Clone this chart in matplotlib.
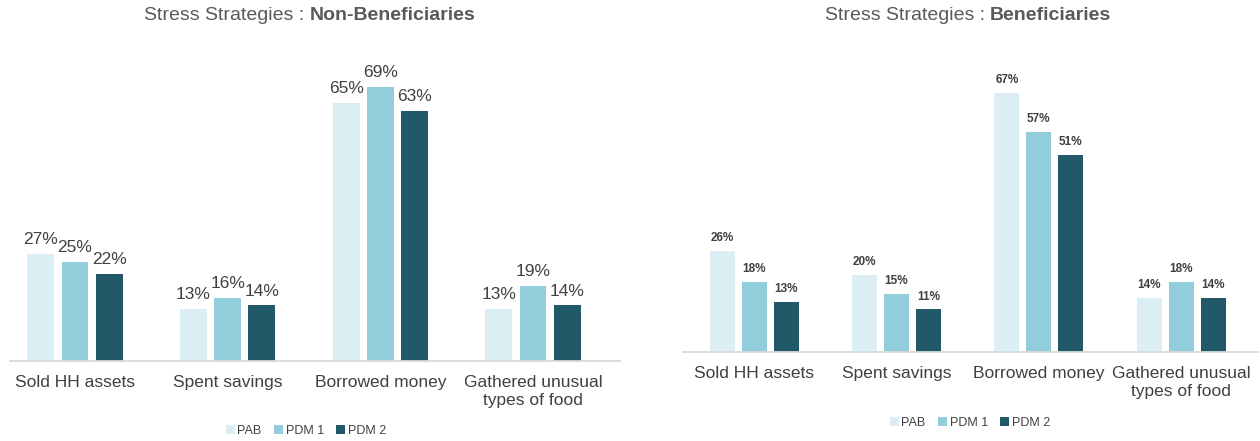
import matplotlib.pyplot as plt
from matplotlib.patches import Patch
import numpy as np

plt.rcParams['font.family'] = ['Liberation Sans', 'DejaVu Sans']

# data
categories = ["Sold HH assets", "Spent savings", "Borrowed money", "Gathered unusual\ntypes of food"]
series_names = ["PAB", "PDM 1", "PDM 2"]
non_benef = {
    "PAB": [27, 13, 65, 13],
    "PDM 1": [25, 16, 69, 19],
    "PDM 2": [22, 14, 63, 14],
}
benef = {
    "PAB": [26, 20, 67, 14],
    "PDM 1": [18, 15, 57, 18],
    "PDM 2": [13, 11, 51, 14],
}
colors = ["#DAEEF3", "#92CDDC", "#215968"]
text_col = "#595959"
W, H = 1260, 441

fig = plt.figure(figsize=(12.6, 4.41), dpi=100)

ax1 = fig.add_axes([10 / W, 80 / H, 610 / W, 300 / H])
ax2 = fig.add_axes([683 / W, 89 / H, 575 / W, 292 / H])


def draw_panel(ax, data, xlim, ylim, lab_size, lab_weight, lab_off):
    x = np.arange(len(categories))
    width = 0.176
    pitch = 0.224
    for i, name in enumerate(series_names):
        vals = data[name]
        bars = ax.bar(x + (i - 1) * pitch, vals, width, color=colors[i], zorder=2)
        for b, v in zip(bars, vals):
            ax.annotate(f"{v}%", (b.get_x() + b.get_width() / 2, v),
                        xytext=(0, lab_off), textcoords="offset points",
                        ha="center", va="bottom", fontsize=lab_size,
                        fontweight=lab_weight, color="#404040")
    ax.set_xlim(*xlim)
    ax.set_ylim(0, ylim)
    ax.set_yticks([])
    ax.set_xticks(x)
    ax.set_xticklabels(categories, fontsize=12.5, color="#404040",
                       linespacing=1.3)
    ax.tick_params(axis="x", length=0, pad=10)
    for s in ["top", "right", "left"]:
        ax.spines[s].set_visible(False)
    ax.spines["bottom"].set_color("#D9D9D9")
    ax.spines["bottom"].set_linewidth(1.3)
    ax.patch.set_alpha(0)


draw_panel(ax1, non_benef, (-0.426, 3.57), 75.6, 12.5, "normal", 5)
draw_panel(ax2, benef, (-0.5, 3.54), 75.5, 8.5, "bold", 5)


# two-part titles: regular prefix, bold suffix, centred as a whole
def split_title(cx, cy, bold_part):
    t1 = fig.text(0, 1 - cy / H, "Stress Strategies : ", ha="left", va="center",
                  fontsize=14, color=text_col)
    t2 = fig.text(0, 1 - cy / H, bold_part, ha="left", va="center",
                  fontsize=14, color=text_col, fontweight="bold")
    r = fig.canvas.get_renderer()
    w1 = t1.get_window_extent(r).width
    w2 = t2.get_window_extent(r).width
    x0 = cx - (w1 + w2) / 2
    t1.set_x(x0 / W)
    t2.set_x((x0 + w1) / W)


split_title(310, 15, "Non-Beneficiaries")
split_title(968, 15, "Beneficiaries")

handles = [Patch(facecolor=c, edgecolor="none", label=n) for c, n in zip(colors, series_names)]
for cx, cy in [(306, 431), (970, 423)]:
    fig.legend(handles=handles, loc="center", bbox_to_anchor=(cx / W, 1 - cy / H),
               ncol=3, frameon=False, fontsize=9, handlelength=0.7,
               handleheight=0.7, handletextpad=0.2, columnspacing=1.0,
               labelcolor="#404040")

fig.savefig("out.png", dpi=100)
